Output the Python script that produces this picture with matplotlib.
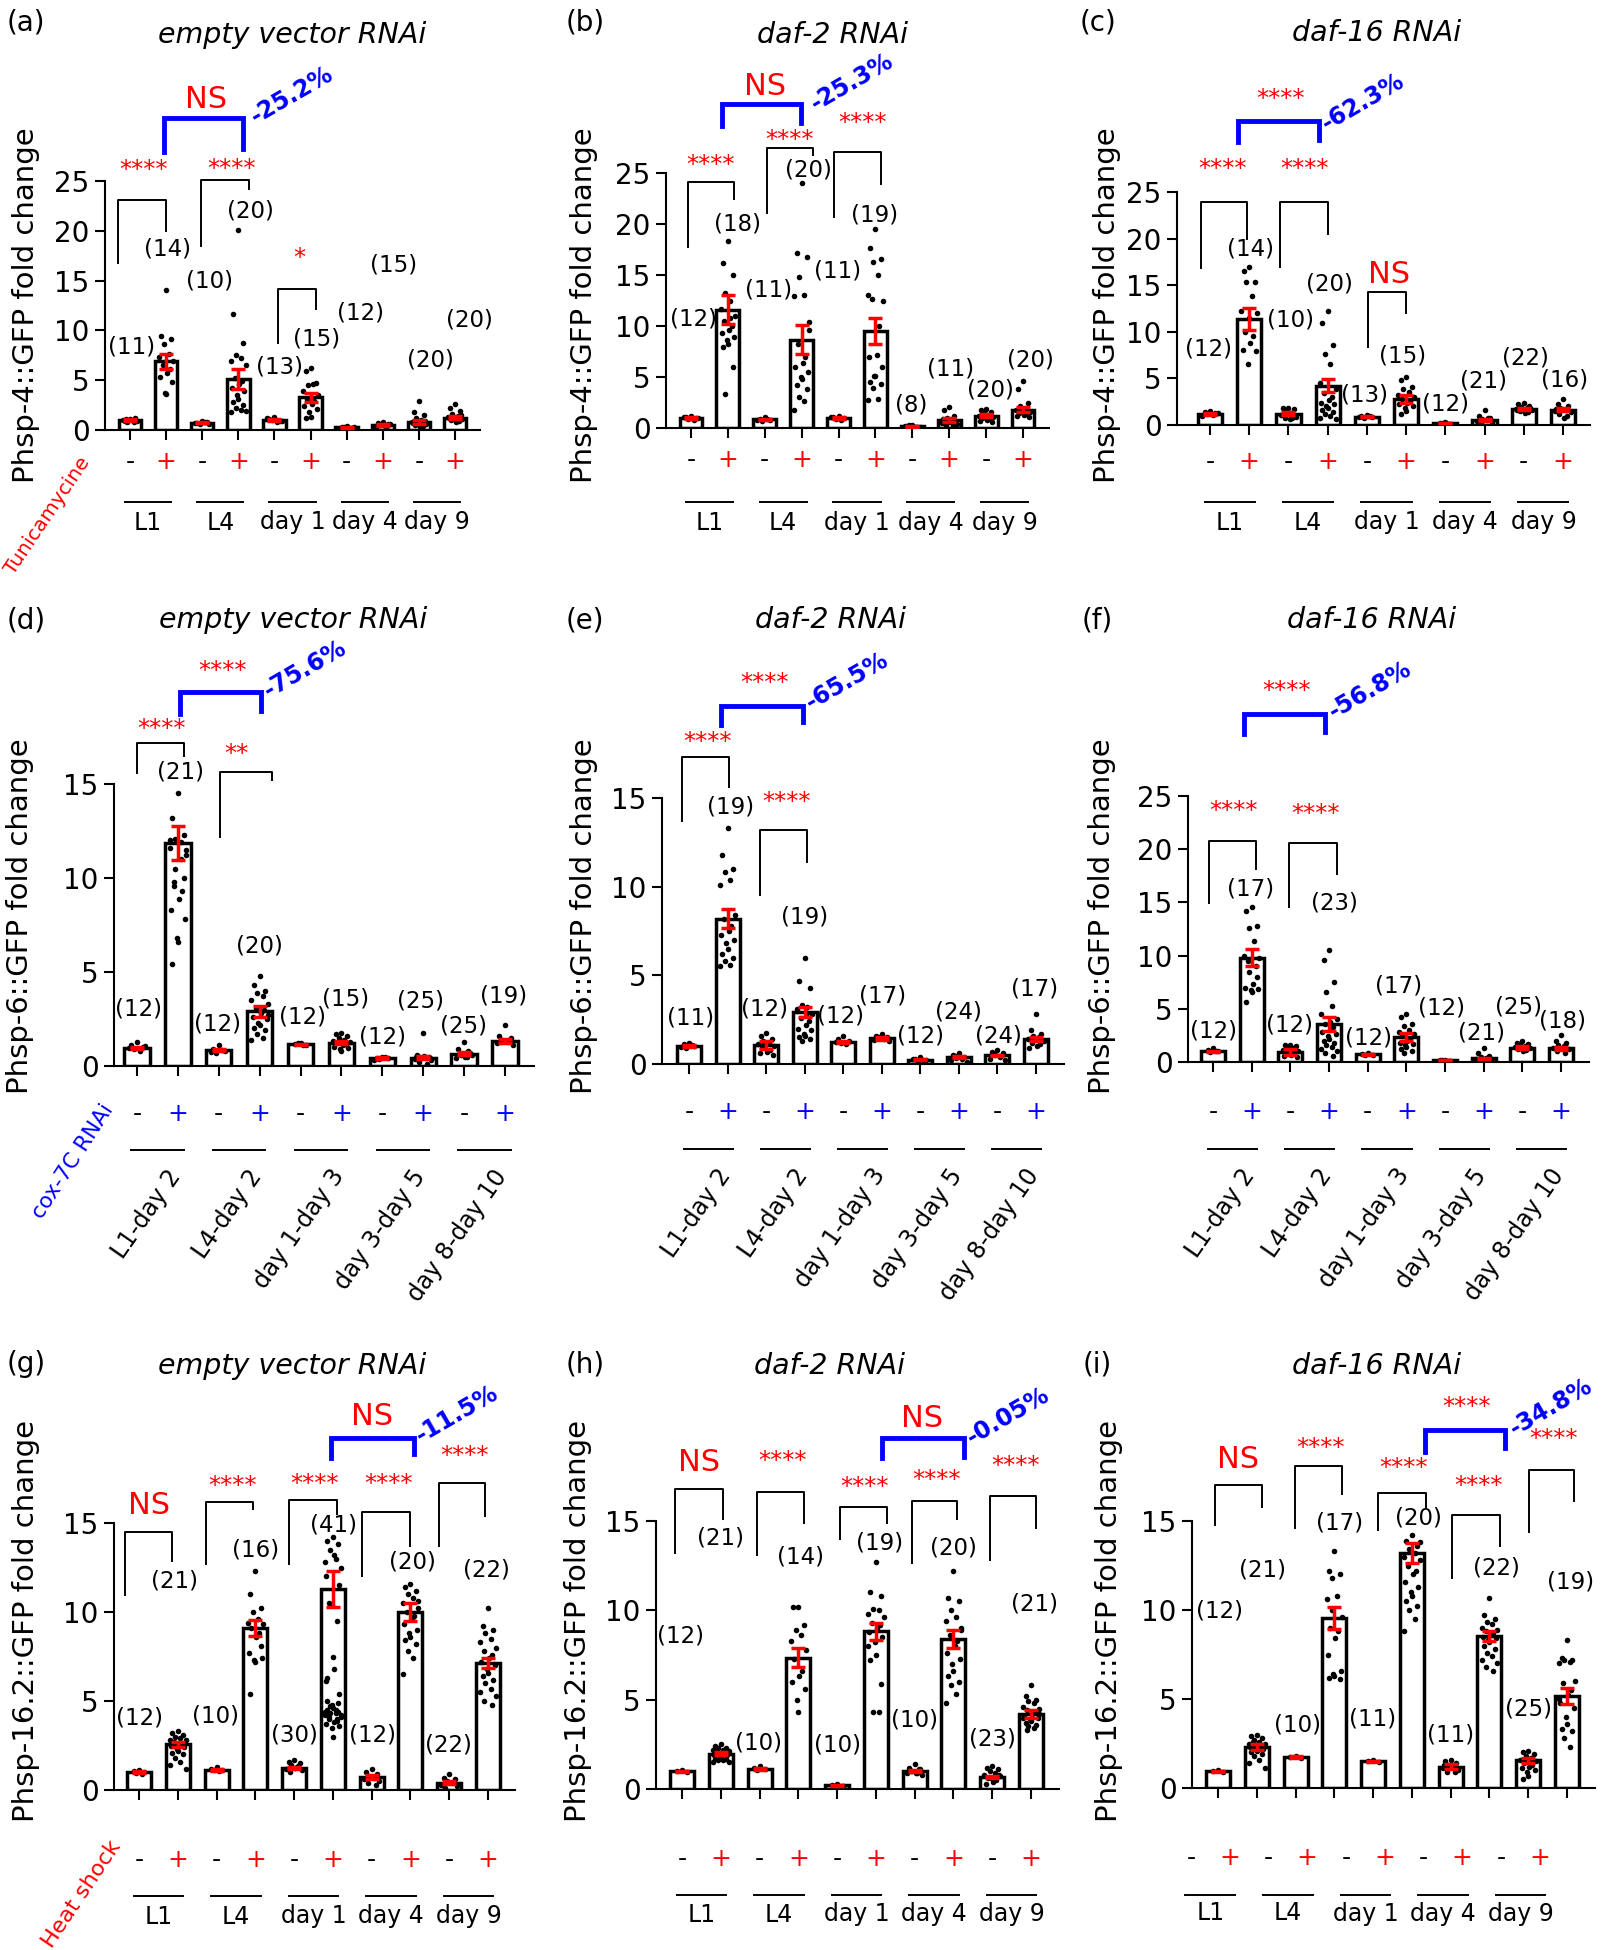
import matplotlib
matplotlib.use("Agg")
import matplotlib.pyplot as plt
from matplotlib.transforms import offset_copy

W, H = 1601, 1950

# ---------------- data ----------------
stage_groups = ["L1", "L4", "day 1", "day 4", "day 9"]
range_groups = ["L1-day 2", "L4-day 2", "day 1-day 3", "day 3-day 5", "day 8-day 10"]
signs = ["-", "+"] * 5

# (a) Phsp-4::GFP, empty vector RNAi, tunicamycine
a_mean = [1.0, 6.9, 0.75, 5.15, 1.0, 3.3, 0.3, 0.55, 0.8, 1.25]
a_sem = [0.08, 0.75, 0.08, 1.0, 0.08, 0.45, 0.05, 0.1, 0.2, 0.15]
a_n = [11, 14, 10, 20, 13, 15, 12, 15, 20, 20]
a_pts = [[1.1, 0.9, 1.2, 0.8, 1.0, 1.05, 0.95, 1.15, 0.85],
         [14.1, 9.4, 9.1, 8.6, 7.6, 7.3, 6.9, 6.5, 6.1, 5.7, 5.3, 4.8, 3.7, 3.6],
         [0.9, 0.7, 0.8, 0.6, 0.85, 0.75, 0.65],
         [20.1, 11.6, 8.7, 7.5, 7.2, 6.9, 6.5, 5.2, 4.9, 4.6, 4.2, 3.9, 3.5, 3.1, 2.8, 2.5, 2.2, 2.0, 1.8, 1.9],
         [1.3, 1.1, 0.9, 1.0, 0.8, 1.2, 0.95],
         [6.2, 5.9, 4.7, 4.5, 4.6, 3.9, 3.5, 3.1, 2.9, 2.6, 2.4, 2.1, 1.8, 1.3, 1.2],
         [0.4, 0.3, 0.2, 0.35, 0.25, 0.15, 0.3],
         [0.8, 0.7, 0.6, 0.5, 0.4, 0.3, 0.65, 0.55, 0.2],
         [2.9, 1.8, 1.5, 1.2, 1.0, 0.8, 0.6, 0.5, 0.4, 0.3, 0.7, 0.9],
         [2.6, 2.2, 1.9, 1.6, 1.4, 1.3, 1.1, 1.0, 0.9, 0.8, 1.2, 1.5]]

# (b) Phsp-4::GFP, daf-2 RNAi
b_mean = [1.0, 11.6, 0.85, 8.65, 1.0, 9.5, 0.15, 0.75, 1.2, 1.8]
b_sem = [0.08, 1.4, 0.08, 1.4, 0.08, 1.25, 0.03, 0.2, 0.15, 0.25]
b_n = [12, 18, 11, 20, 11, 19, 8, 11, 20, 20]
b_pts = [[1.2, 1.1, 1.0, 0.9, 0.8, 1.05, 0.95],
         [18.3, 16.2, 15.0, 13.2, 12.5, 11.7, 11.0, 10.5, 10.0, 9.6, 9.3, 8.9, 8.6, 8.2, 7.9, 6.0, 3.3, 10.8],
         [1.1, 0.9, 0.8, 0.7, 0.85, 0.75],
         [24.0, 17.2, 16.8, 14.8, 13.0, 12.9, 10.4, 8.2, 7.0, 6.4, 6.0, 5.5, 5.0, 4.8, 4.2, 3.8, 3.0, 2.6, 1.8, 9.6],
         [1.2, 1.1, 1.0, 0.9, 0.8, 1.05],
         [19.5, 17.6, 16.6, 16.3, 15.0, 13.0, 12.5, 12.6, 10.0, 7.2, 7.0, 6.0, 5.1, 5.1, 4.5, 4.3, 3.9, 2.8, 2.7],
         [0.3, 0.2, 0.1, 0.15, 0.05, 0.2, 0.1, 0.25],
         [2.1, 1.8, 1.2, 1.0, 0.7, 0.5, 0.4, 0.3, 0.2, 0.6, 0.9],
         [1.9, 1.8, 1.6, 1.5, 1.3, 1.2, 1.1, 1.0, 0.9, 0.8, 0.7, 0.6, 1.4, 1.0],
         [4.6, 3.8, 2.5, 2.2, 2.0, 1.8, 1.6, 1.5, 1.4, 1.3, 1.2, 1.1, 1.7, 1.9]]

# (c) Phsp-4::GFP, daf-16 RNAi
c_mean = [1.2, 11.4, 1.2, 4.2, 0.9, 2.8, 0.2, 0.55, 1.7, 1.65]
c_sem = [0.1, 1.2, 0.15, 0.7, 0.05, 0.45, 0.03, 0.1, 0.12, 0.2]
c_n = [12, 14, 10, 20, 13, 15, 12, 21, 22, 16]
c_pts = [[1.5, 1.4, 1.3, 1.2, 1.1, 1.0, 1.25],
         [17.0, 16.5, 15.3, 15.3, 13.8, 12.2, 12.0, 10.0, 9.5, 8.8, 8.0, 7.9, 6.5, 11.5],
         [1.8, 1.8, 1.7, 1.5, 1.3, 1.1, 0.9, 0.8, 0.7, 0.6],
         [12.2, 10.9, 8.6, 7.6, 6.5, 4.5, 3.9, 3.4, 3.0, 2.7, 2.4, 2.2, 2.0, 1.8, 1.6, 1.4, 1.2, 1.0, 0.8, 0.6],
         [1.1, 1.0, 0.9, 0.8, 0.95, 0.85],
         [5.2, 4.8, 4.1, 3.9, 3.5, 3.2, 3.0, 2.8, 2.6, 2.4, 2.2, 2.0, 1.8, 1.5, 1.2],
         [0.3, 0.2, 0.1, 0.25, 0.15],
         [1.6, 1.0, 0.8, 0.6, 0.5, 0.4, 0.3, 0.2, 0.7],
         [2.4, 2.2, 2.0, 1.9, 1.8, 1.7, 1.6, 1.5, 1.4, 1.3, 1.6, 1.8],
         [2.8, 2.3, 2.0, 1.8, 1.6, 1.5, 1.4, 1.2, 1.0, 0.8, 1.7]]

# (d) Phsp-6::GFP, empty vector RNAi, cox-7C RNAi
d_mean = [0.96, 11.87, 0.84, 2.9, 1.15, 1.25, 0.43, 0.43, 0.65, 1.32]
d_sem = [0.06, 0.9, 0.05, 0.27, 0.04, 0.1, 0.05, 0.08, 0.07, 0.1]
d_n = [12, 21, 12, 20, 12, 15, 12, 25, 25, 19]
d_pts = [[1.3, 1.1, 1.0, 0.9, 0.8, 0.95, 1.05],
         [14.5, 13.2, 12.3, 12.1, 11.9, 11.6, 11.5, 9.6, 9.3, 8.9, 8.3, 7.8, 6.8, 6.6, 5.4, 10.0, 10.5, 11.0, 12.0, 11.2, 9.8],
         [1.1, 0.9, 0.8, 0.7, 0.85, 0.75],
         [4.8, 4.3, 4.0, 3.9, 3.7, 3.5, 3.3, 3.1, 3.0, 2.8, 2.6, 2.5, 2.3, 2.2, 2.0, 1.9, 1.7, 1.5, 1.4, 2.7],
         [1.2, 1.15, 1.1, 1.2, 1.1],
         [1.75, 1.7, 1.6, 1.5, 1.4, 1.35, 1.3, 1.2, 1.15, 1.1, 1.0, 0.95, 0.9, 0.8, 1.25],
         [0.5, 0.45, 0.4, 0.35, 0.5, 0.3],
         [1.75, 0.6, 0.5, 0.45, 0.4, 0.35, 0.3, 0.2, 0.1, 0.55, 0.5, 0.4],
         [1.3, 0.9, 0.7, 0.6, 0.5, 0.4, 0.6, 0.7, 0.8, 0.5],
         [2.2, 1.6, 1.5, 1.4, 1.3, 1.2, 1.1, 1.3, 1.4]]

# (e) Phsp-6::GFP, daf-2 RNAi
e_mean = [1.02, 8.2, 1.07, 2.93, 1.25, 1.45, 0.25, 0.38, 0.48, 1.4]
e_sem = [0.05, 0.55, 0.2, 0.3, 0.05, 0.07, 0.03, 0.05, 0.05, 0.12]
e_n = [11, 19, 12, 19, 12, 17, 12, 24, 24, 17]
e_pts = [[1.2, 1.1, 1.0, 0.9, 1.05, 0.95],
         [13.3, 11.8, 11.0, 10.8, 10.4, 10.1, 8.4, 8.2, 7.8, 7.5, 7.3, 7.0, 6.8, 6.5, 6.2, 6.0, 5.8, 5.6, 5.5],
         [1.75, 1.6, 1.4, 1.3, 1.2, 1.1, 1.0, 0.9, 0.8, 0.7, 0.6, 0.5],
         [6.0, 4.7, 4.3, 3.3, 3.2, 3.0, 2.8, 2.6, 2.4, 2.2, 2.0, 1.9, 1.7, 1.6, 1.5, 1.4, 1.3, 2.9, 3.1],
         [1.6, 1.4, 1.3, 1.2, 1.1, 1.25],
         [1.7, 1.6, 1.5, 1.45, 1.4, 1.35, 1.3, 1.5],
         [0.4, 0.3, 0.2, 0.15, 0.25, 0.3],
         [0.6, 0.5, 0.4, 0.35, 0.3, 0.2, 0.1, 0.45],
         [0.8, 0.7, 0.6, 0.5, 0.4, 0.3, 0.2, 0.55],
         [2.8, 1.9, 1.7, 1.6, 1.5, 1.4, 1.3, 1.2, 1.1, 1.0, 0.9]]

# (f) Phsp-6::GFP, daf-16 RNAi
f_mean = [1.0, 9.8, 0.95, 3.57, 0.72, 2.34, 0.17, 0.34, 1.36, 1.28]
f_sem = [0.05, 0.8, 0.3, 0.65, 0.04, 0.35, 0.02, 0.08, 0.1, 0.15]
f_n = [12, 17, 12, 23, 12, 17, 12, 21, 25, 18]
f_pts = [[1.3, 1.1, 1.0, 0.9, 1.05],
         [14.6, 14.2, 12.8, 12.6, 11.4, 10.0, 9.8, 9.5, 9.0, 7.3, 7.0, 6.9, 6.8, 6.6, 5.6, 8.0, 8.5],
         [1.6, 1.6, 1.5, 1.4, 1.3, 1.1, 1.0, 0.9, 0.8, 0.7, 0.6, 0.5],
         [10.5, 9.6, 7.5, 6.6, 5.3, 4.5, 4.0, 3.6, 3.3, 3.0, 2.8, 2.6, 2.4, 2.2, 2.0, 1.8, 1.6, 1.4, 1.2, 1.0, 0.8, 0.6, 3.8],
         [0.8, 0.75, 0.7, 0.65],
         [4.5, 4.2, 3.6, 3.4, 3.0, 2.8, 2.6, 2.4, 2.2, 2.0, 1.8, 1.7, 1.6, 1.4, 1.2, 1.0, 0.8],
         [0.2, 0.15, 0.1, 0.2],
         [1.3, 0.8, 0.6, 0.5, 0.4, 0.3, 0.2, 0.1],
         [2.0, 1.8, 1.7, 1.6, 1.5, 1.4, 1.3, 1.2, 1.1, 1.0],
         [2.5, 2.0, 1.8, 1.6, 1.5, 1.3, 1.2, 1.0, 0.8]]

# (g) Phsp-16.2::GFP, empty vector RNAi, heat shock
g_mean = [1.0, 2.57, 1.13, 9.1, 1.26, 11.3, 0.72, 10.0, 0.42, 7.13]
g_sem = [0.04, 0.15, 0.05, 0.43, 0.06, 1.0, 0.1, 0.5, 0.06, 0.3]
g_n = [12, 21, 10, 16, 30, 41, 12, 20, 22, 22]
g_pts = [[1.1, 1.05, 1.0, 0.95, 0.9],
         [3.3, 3.2, 3.1, 3.0, 2.9, 2.8, 2.8, 2.7, 2.6, 2.6, 2.5, 2.4, 2.3, 2.2, 2.1, 2.0, 1.8, 1.6, 1.4, 1.2, 2.5],
         [1.3, 1.2, 1.15, 1.1, 1.05],
         [12.3, 11.0, 10.2, 10.0, 9.6, 9.4, 9.3, 9.1, 8.8, 8.6, 7.7, 7.4, 7.3, 7.2, 5.4, 8.1],
         [1.7, 1.6, 1.5, 1.4, 1.3, 1.2, 1.1, 1.0, 1.35, 1.25],
         [14.2, 14.0, 13.8, 13.5, 13.0, 12.8, 12.5, 10.5, 9.5, 6.8, 6.1, 5.4, 4.8, 4.6, 4.5, 4.4, 4.3, 4.3, 4.2,
          4.1, 4.0, 3.9, 3.8, 3.7, 3.6, 3.5, 3.0, 5.0, 4.9, 4.7, 4.5, 4.4, 4.2, 4.1, 4.0, 13.2, 12.0, 11.5, 10.4,
          7.5, 6.3],
         [1.2, 1.0, 0.9, 0.8, 0.7, 0.6, 0.5, 0.4, 0.3],
         [11.6, 11.4, 11.2, 11.0, 10.8, 10.5, 10.2, 10.0, 9.8, 9.6, 9.3, 9.0, 8.8, 8.6, 8.4, 8.2, 7.8, 7.4, 6.5, 10.6],
         [0.9, 0.7, 0.6, 0.5, 0.4, 0.3, 0.2, 0.1],
         [10.2, 9.2, 9.0, 8.8, 8.5, 8.3, 8.0, 7.8, 7.6, 7.4, 7.2, 7.0, 6.8, 6.6, 6.4, 6.2, 6.0, 5.7, 5.5, 5.3, 5.0, 4.8]]

# (h) Phsp-16.2::GFP, daf-2 RNAi
h_mean = [0.99, 1.98, 1.11, 7.36, 0.2, 8.82, 0.99, 8.4, 0.69, 4.2]
h_sem = [0.03, 0.1, 0.06, 0.52, 0.03, 0.48, 0.06, 0.49, 0.05, 0.2]
h_n = [12, 21, 10, 14, 10, 19, 10, 20, 23, 21]
h_pts = [[1.05, 1.0, 0.95],
         [2.5, 2.4, 2.3, 2.3, 2.2, 2.2, 2.1, 2.1, 2.0, 2.0, 1.9, 1.9, 1.8, 1.8, 1.7, 1.7, 1.6, 1.6, 1.5, 1.5, 2.0],
         [1.3, 1.2, 1.1, 1.05],
         [10.2, 10.2, 9.2, 8.9, 8.6, 8.3, 7.8, 7.3, 6.6, 6.3, 6.0, 5.6, 5.0, 4.3],
         [0.3, 0.2, 0.15, 0.1],
         [12.7, 11.0, 10.8, 10.1, 10.0, 9.8, 9.6, 9.3, 9.2, 9.0, 8.8, 8.5, 8.2, 7.5, 7.2, 5.9, 4.3, 4.3, 8.0],
         [1.4, 1.2, 1.1, 1.0, 0.9, 0.9, 0.8, 1.0, 1.1, 0.9],
         [12.2, 10.7, 10.5, 10.0, 9.6, 9.4, 9.0, 8.6, 8.3, 8.0, 7.6, 7.3, 7.0, 6.6, 6.3, 6.0, 5.8, 5.3, 4.8, 8.9],
         [1.3, 1.2, 1.1, 1.0, 0.9, 0.8, 0.7, 0.6, 0.5, 0.4, 0.3, 0.8, 0.6],
         [5.8, 5.2, 5.0, 4.9, 4.8, 4.6, 4.5, 4.4, 4.3, 4.2, 4.1, 4.0, 3.9, 3.8, 3.7, 3.6, 3.5, 3.4, 4.0, 4.2, 3.3]]

# (i) Phsp-16.2::GFP, daf-16 RNAi
i_mean = [0.94, 2.3, 1.73, 9.55, 1.49, 13.2, 1.19, 8.54, 1.56, 5.15]
i_sem = [0.03, 0.15, 0.04, 0.6, 0.04, 0.58, 0.15, 0.27, 0.15, 0.45]
i_n = [12, 21, 10, 17, 11, 20, 11, 22, 25, 19]
i_pts = [[1.0, 0.95, 0.9],
         [3.0, 2.9, 2.8, 2.7, 2.6, 2.5, 2.5, 2.4, 2.4, 2.3, 2.3, 2.2, 2.2, 2.1, 2.0, 1.9, 1.8, 1.6, 1.4, 1.1, 2.6],
         [1.8, 1.75, 1.7],
         [13.3, 12.2, 12.0, 11.8, 10.8, 10.6, 9.6, 9.0, 8.8, 8.4, 7.5, 6.6, 6.4, 6.3, 6.2, 6.1, 10.0],
         [1.55, 1.5, 1.45],
         [14.2, 13.9, 13.6, 13.4, 13.2, 13.0, 12.8, 12.5, 12.2, 12.0, 11.6, 11.3, 11.0, 10.8, 10.5, 10.2, 10.0, 9.5, 8.8, 13.8],
         [1.6, 1.5, 1.4, 1.3, 1.2, 1.1, 1.0, 0.9, 0.9, 1.2, 1.3],
         [10.7, 9.7, 9.5, 9.3, 9.2, 9.0, 8.9, 8.8, 8.7, 8.6, 8.5, 8.4, 8.3, 8.2, 8.0, 7.8, 7.6, 7.4, 7.2, 7.0, 6.8, 6.6],
         [2.1, 2.0, 1.9, 1.8, 1.7, 1.6, 1.5, 1.4, 1.3, 1.2, 1.1, 1.0, 0.9, 0.7, 0.5],
         [8.3, 7.3, 7.2, 7.2, 7.1, 7.0, 6.0, 5.9, 5.5, 5.2, 4.8, 4.5, 4.0, 3.6, 3.3, 3.2, 2.8, 2.3, 5.0]]

# ---------------- annotation layout ----------------
# brackets: (x1, x2, ytop, yleft, yright, label, label_x, label_y)
a_br = [(-0.33, 1.01, 23.06, 16.8, 20.0, "****", 0.38, 26.7),
        (1.97, 3.29, 25.07, 18.5, 24.2, "****", 2.82, 26.8),
        (4.11, 5.15, 14.2, 8.75, 12.1, "*", 4.7, 17.8)]
b_br = [(-0.09, 1.16, 24.1, 17.7, 22.5, "****", 0.54, 26.3),
        (2.06, 3.31, 27.5, 21.1, 26.8, "****", 2.66, 28.8),
        (3.89, 5.14, 27.1, 20.7, 23.9, "****", 4.65, 30.5)]
c_br = [(-0.22, 0.95, 23.9, 16.8, 20.0, "****", 0.32, 28.1),
        (1.79, 3.0, 23.9, 16.9, 20.5, "****", 2.4, 28.1),
        (4.04, 4.99, 14.3, 8.4, 12.0, "NS", 4.56, 16.45)]
d_br = [(0.0, 1.14, 17.2, 15.6, 16.5, "****", 0.6, 18.2),
        (2.02, 3.29, 15.65, 12.2, 15.2, "**", 2.43, 16.9)]
e_br = [(-0.18, 1.04, 17.3, 13.7, 15.6, "****", 0.49, 18.5),
        (1.84, 3.07, 13.2, 9.55, 11.4, "****", 2.52, 15.1)]
f_br = [(-0.11, 1.1, 20.8, 14.9, 18.1, "****", 0.54, 24.1),
        (1.97, 3.2, 20.6, 14.6, 17.7, "****", 2.65, 23.8)]
g_br = [(-0.35, 0.86, 14.5, 10.95, 12.85, "NS", 0.25, 16.1),
        (1.72, 2.95, 16.2, 12.7, 15.8, "****", 2.4, 17.4),
        (3.88, 5.11, 16.3, 12.7, 15.5, "****", 4.53, 17.5),
        (5.76, 6.99, 15.6, 12.0, 13.7, "****", 6.43, 17.5),
        (7.74, 8.91, 17.25, 13.7, 15.4, "****", 8.4, 19.1)]
h_br = [(-0.18, 1.06, 16.8, 13.2, 15.1, "NS", 0.44, 18.4),
        (1.94, 3.14, 16.6, 13.1, 14.9, "****", 2.6, 18.7),
        (4.07, 5.28, 15.8, 14.0, 14.9, "****", 4.71, 17.2),
        (5.92, 7.1, 16.1, 12.65, 15.1, "****", 6.56, 17.6),
        (7.94, 9.13, 16.4, 12.8, 14.6, "****", 8.6, 18.4)]
i_br = [(-0.09, 1.14, 17.0, 14.75, 15.8, "NS", 0.51, 18.6),
        (1.99, 3.2, 18.1, 14.6, 16.5, "****", 2.65, 19.4),
        (4.13, 5.36, 16.6, 14.5, 15.8, "****", 4.79, 18.3),
        (6.04, 7.26, 15.35, 11.8, 13.6, "****", 6.71, 17.3),
        (8.02, 9.18, 17.85, 14.4, 16.1, "****", 8.66, 19.9)]

# blue comparison bracket: (x1, x2, ytop, yleft, yright, label, lx, ly, percent, px, py)
a_blue = (0.93, 3.14, 31.3, 27.9, 28.2, "NS", 2.1, 33.4, "-25.2%", 4.49, 33.6)
b_blue = (0.84, 2.99, 31.8, 29.6, 29.9, "NS", 2.02, 33.7, "-25.3%", 4.36, 33.9)
c_blue = (0.71, 2.79, 32.6, 30.4, 30.6, "****", 1.79, 35.6, "-62.3%", 3.91, 34.7)
d_blue = (1.04, 3.04, 19.9, 18.7, 18.9, "****", 2.08, 21.3, "-75.6%", 4.12, 21.1)
e_blue = (0.84, 2.96, 20.2, 19.1, 19.3, "****", 1.97, 21.8, "-65.5%", 4.11, 21.6)
f_blue = (0.79, 2.89, 32.7, 30.8, 31.0, "****", 1.91, 35.4, "-56.8%", 4.06, 34.95)
g_blue = (4.95, 7.08, 19.8, 18.65, 18.85, "NS", 6.0, 21.1, "-11.5%", 8.2, 21.1)
h_blue = (5.17, 7.26, 19.65, 18.5, 18.6, "NS", 6.2, 20.9, "-0.05%", 8.4, 20.9)
i_blue = (5.34, 7.41, 20.1, 18.9, 19.1, "****", 6.42, 21.7, "-34.8%", 8.59, 21.4)

# positions of the (n) labels
a_npos = [(0.05, 8.4), (1.04, 18.2), (2.19, 15.0), (3.34, 22.0), (4.14, 6.4),
          (5.18, 9.2), (6.38, 11.85), (7.3, 16.6), (8.32, 7.1), (9.4, 11.1)]
b_npos = [(0.07, 10.75), (1.26, 20.1), (2.11, 13.6), (3.17, 25.4), (3.96, 15.45),
          (4.98, 20.9), (5.98, 2.3), (7.04, 5.8), (8.12, 3.8), (9.19, 6.7)]
c_npos = [(-0.03, 8.25), (1.03, 19.0), (2.05, 11.3), (3.05, 15.2), (3.95, 3.3),
          (4.92, 7.5), (6.01, 2.3), (6.98, 4.8), (8.04, 7.3), (9.04, 4.85)]
d_npos = [(0.04, 3.08), (1.07, 15.65), (1.97, 2.29), (3.0, 6.43), (4.04, 2.65),
          (5.1, 3.6), (6.0, 1.56), (6.93, 3.5), (7.98, 2.17), (8.96, 3.73)]
e_npos = [(0.04, 2.65), (1.08, 14.5), (1.96, 3.16), (3.0, 8.3), (3.92, 2.72),
          (5.02, 3.87), (6.01, 1.63), (6.98, 2.98), (8.03, 1.63), (8.96, 4.25)]
f_npos = [(0.0, 2.93), (0.98, 16.3), (1.99, 3.5), (3.13, 15.0), (4.01, 2.34),
          (4.8, 7.2), (5.92, 5.1), (6.95, 2.76), (7.9, 5.2), (9.04, 3.9)]
g_npos = [(0.01, 4.1), (0.92, 11.75), (1.98, 4.2), (3.0, 13.5), (4.0, 3.1),
          (5.02, 14.9), (6.02, 3.1), (7.04, 12.85), (7.99, 2.57), (8.95, 12.4)]
h_npos = [(-0.04, 8.57), (1.0, 14.1), (1.98, 2.6), (3.06, 13.0), (4.0, 2.47),
          (5.09, 13.8), (5.99, 3.9), (7.0, 13.5), (8.01, 2.84), (9.08, 10.4)]
i_npos = [(0.03, 10.0), (1.16, 12.3), (2.05, 3.6), (3.13, 14.9), (3.99, 3.9),
          (5.17, 15.2), (6.01, 3.0), (7.19, 12.4), (8.01, 4.5), (9.09, 11.6)]

jitter = [0.0, -0.14, 0.14, -0.07, 0.07, -0.2, 0.2, -0.1, 0.1, 0.03, -0.17, 0.17, -0.03]

fig = plt.figure(figsize=(W / 100, H / 100), dpi=100)

RED = "#ff0000"
BLUE = "#0000ff"


def ctext(ax, x, y, s, size, k, **kw):
    # centre text visually at (x, y): shift baseline down by k * fontsize
    tr = offset_copy(ax.transData, fig=fig, x=0, y=-k * size, units="points")
    ax.text(x, y, s, transform=tr, fontsize=size, ha="center", va="baseline",
            clip_on=False, **kw)


def below(ax, px_down, extra=0.0):
    return offset_copy(ax.get_xaxis_transform(), fig=fig, x=0,
                       y=-px_down * 0.72 - extra, units="points")


def draw_panel(px, ymax, mean, sem, pts, n, npos, brackets, blue, sign_col,
               groups, below_px, rotated=False, xshift=0.0):
    left, right, top, zero, first, last = px
    sp = (last - first) / 9
    ax = fig.add_axes([left / W, 1 - zero / H, (right - left) / W, (zero - top) / H])
    ax.set_xlim(-(first - left) / sp, 9 + (right - last) / sp)
    ax.set_ylim(0, ymax)
    x = list(range(10))
    ax.bar(x, mean, width=0.62, color="white", edgecolor="black", linewidth=2.5, zorder=2)
    for i, vals in enumerate(pts):
        xs = [i + jitter[j % len(jitter)] for j in range(len(vals))]
        ax.scatter(xs, vals, s=16, color="black", zorder=3, linewidths=0)
    ax.errorbar(x, mean, yerr=sem, fmt="none", ecolor=RED, elinewidth=2.5,
                capsize=5, capthick=2.5, zorder=4)
    for sp_name in ("top", "right"):
        ax.spines[sp_name].set_visible(False)
    for sp_name in ("left", "bottom"):
        ax.spines[sp_name].set_linewidth(1.5)
    ax.set_yticks(range(0, ymax + 1, 5))
    ax.set_xticks(x)
    ax.set_xticklabels([])
    ax.tick_params(axis="y", labelsize=20, length=7, width=1.5, pad=4)
    ax.tick_params(axis="x", length=7, width=1.5)

    # significance brackets
    for x1, x2, yt, yl, yr, lab, lx, ly in brackets:
        ax.plot([x1, x1, x2, x2], [yl, yt, yt, yr], color="black", lw=1.4, clip_on=False)
        if lab == "NS":
            ctext(ax, lx, ly, lab, 22, 0.36, color=RED)
        else:
            ctext(ax, lx, ly, lab, 17.5, 0.52, color=RED)
    x1, x2, yt, yl, yr, lab, lx, ly, pct, ppx, ppy = blue
    ax.plot([x1, x1, x2, x2], [yl, yt, yt, yr], color=BLUE, lw=3.5, clip_on=False,
            solid_joinstyle="miter")
    if lab == "NS":
        ctext(ax, lx, ly, lab, 22, 0.36, color=RED)
    else:
        ctext(ax, lx, ly, lab, 17.5, 0.52, color=RED)
    ax.text(ppx, ppy, pct, rotation=30, rotation_mode="anchor", ha="center", va="center",
            color=BLUE, fontsize=17, fontweight="bold", clip_on=False)

    # n labels
    for cnt, (nx, ny) in zip(n, npos):
        ctext(ax, nx, ny, f"({cnt})", 16.5, 0.31, color="black")

    # - / + signs, group lines and group labels
    sign_px, line_px, label_px = below_px
    for i, s in enumerate(signs):
        col = "black" if s == "-" else sign_col
        ax.text(i + xshift, 0, s, transform=below(ax, sign_px, 0.33 * 18), fontsize=18,
                ha="center", va="baseline", color=col, clip_on=False)
    for g, lab in enumerate(groups):
        c = 2 * g + 0.5 + xshift
        ax.plot([c - 0.64, c + 0.64], [0, 0], transform=below(ax, line_px), color="black",
                lw=1.4, clip_on=False)
        if rotated:
            ax.text(c + 0.2, 0, lab, transform=below(ax, label_px), fontsize=17,
                    rotation=55, rotation_mode="anchor", ha="right", va="top", clip_on=False)
        else:
            ax.text(c, 0, lab, transform=below(ax, label_px, 0.36 * 17), fontsize=17,
                    ha="center", va="baseline", clip_on=False)
    return ax


def ftext(x, y, s, **kw):
    fig.text(x / W, 1 - y / H, s, ha="center", va="center", **kw)


panels = [
    ("a", (105, 480, 181, 430, 130, 455), 25, a_mean, a_sem, a_pts, a_n, a_npos, a_br, a_blue,
     RED, stage_groups, (31, 72, 91), False, 0.0,
     (26, 22), (292, 35), "empty vector RNAi", (26, 305), "Phsp-4::GFP fold change"),
    ("b", (666, 1049, 173, 428, 691, 1023), 25, b_mean, b_sem, b_pts, b_n, b_npos, b_br, b_blue,
     RED, stage_groups, (31, 74, 93), False, 0.0,
     (585, 22), (832, 35), "daf-2 RNAi", (584, 305), "Phsp-4::GFP fold change"),
    ("c", (1177, 1590, 192, 425, 1210, 1563), 25, c_mean, c_sem, c_pts, c_n, c_npos, c_br, c_blue,
     RED, stage_groups, (36, 77, 96), False, 0.0,
     (1098, 22), (1377, 33), "daf-16 RNAi", (1107, 305), "Phsp-4::GFP fold change"),
    ("d", (114, 534, 784, 1066, 137, 505), 15, d_mean, d_sem, d_pts, d_n, d_npos, d_br, d_blue,
     BLUE, range_groups, (47, 84, 99), True, 0.0,
     (26, 620), (293, 620), "empty vector RNAi", (20, 916), "Phsp-6::GFP fold change"),
    ("e", (662, 1064, 798, 1064, 689, 1036), 15, e_mean, e_sem, e_pts, e_n, e_npos, e_br, e_blue,
     BLUE, range_groups, (47, 85, 100), True, 0.0,
     (585, 620), (830, 620), "daf-2 RNAi", (584, 916), "Phsp-6::GFP fold change"),
    ("f", (1188, 1589, 796, 1062, 1213, 1561), 25, f_mean, f_sem, f_pts, f_n, f_npos, f_br, f_blue,
     BLUE, range_groups, (49, 87, 102), True, 0.0,
     (1097, 620), (1372, 620), "daf-16 RNAi", (1102, 916), "Phsp-6::GFP fold change"),
    ("g", (114, 515, 1523, 1790, 139, 488), 15, g_mean, g_sem, g_pts, g_n, g_npos, g_br, g_blue,
     RED, stage_groups, (69, 106, 125), False, 0.0,
     (26, 1364), (292, 1366), "empty vector RNAi", (26, 1621), "Phsp-16.2::GFP fold change"),
    ("h", (656, 1059, 1521, 1789, 682, 1031), 15, h_mean, h_sem, h_pts, h_n, h_npos, h_br, h_blue,
     RED, stage_groups, (69, 106, 124), False, 0.0,
     (585, 1364), (829, 1366), "daf-2 RNAi", (578, 1621), "Phsp-16.2::GFP fold change"),
    ("i", (1192, 1595, 1521, 1788, 1218, 1567), 15, i_mean, i_sem, i_pts, i_n, i_npos, i_br, i_blue,
     RED, stage_groups, (69, 107, 124), False, -0.7,
     (1097, 1364), (1377, 1366), "daf-16 RNAi", (1109, 1621), "Phsp-16.2::GFP fold change"),
]

for (key, px, ymax, mean, sem, pts, n, npos, br, blue, scol, groups, bpx, rot, xsh,
     lab_xy, title_xy, title, ylab_xy, ylab) in panels:
    draw_panel(px, ymax, mean, sem, pts, n, npos, br, blue, scol, groups, bpx, rot, xsh)
    ftext(*lab_xy, f"({key})", fontsize=20)
    ftext(*title_xy, title, fontsize=20.5, fontstyle="italic")
    ftext(*ylab_xy, ylab, fontsize=21, rotation=90)

# treatment labels on the left
ftext(48, 516, "Tunicamycine", fontsize=14.5, rotation=56, color=RED)
ftext(73, 1161, "cox-7C RNAi", fontsize=15.5, rotation=57, color=BLUE)
ftext(82, 1894, "Heat shock", fontsize=16, rotation=56, color=RED)

fig.savefig("out.png", dpi=100)
